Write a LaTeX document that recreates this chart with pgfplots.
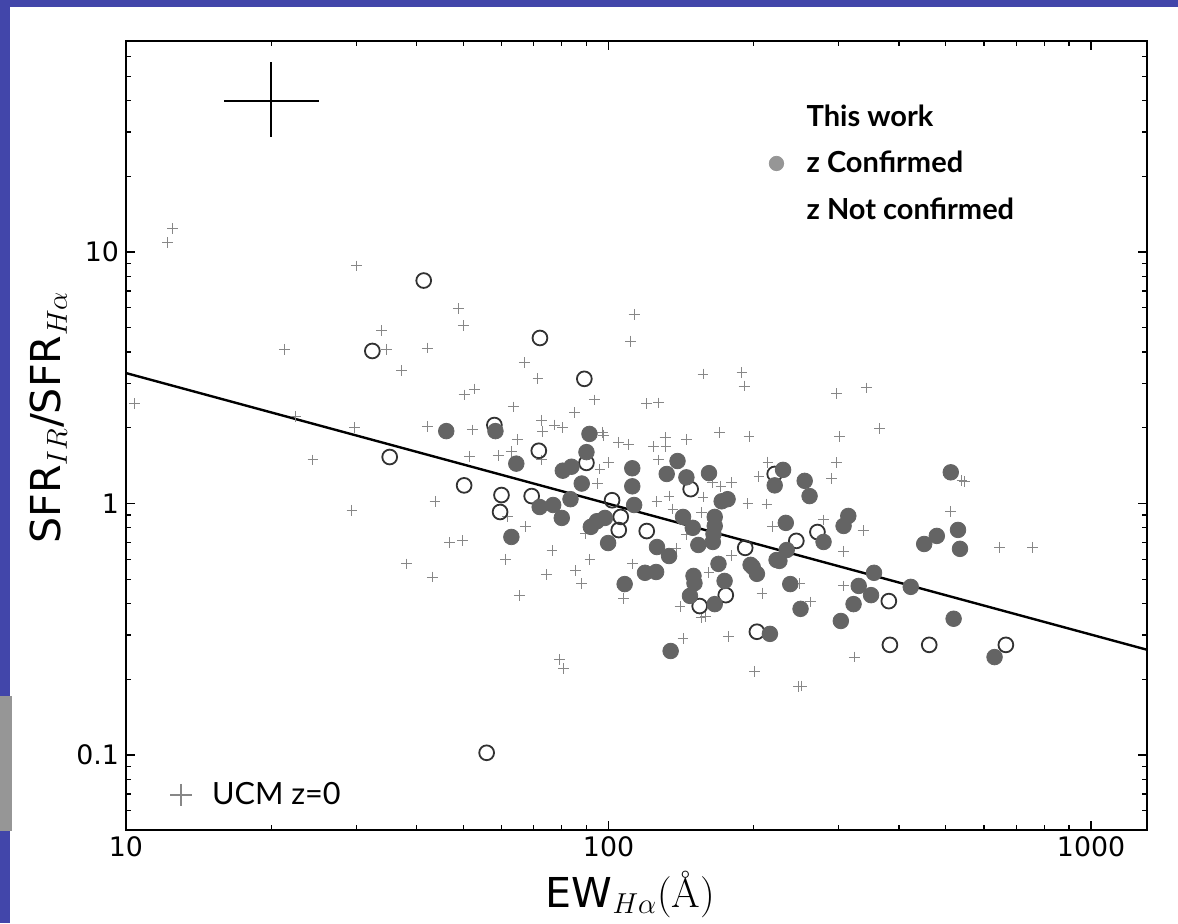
\documentclass[border=0pt]{standalone}
\usepackage{fontspec}
\usepackage{pgfplots}
\pgfplotsset{compat=1.18}
\newfontfamily\djv{DejaVu Sans}
\newfontfamily\lato{Lato}
\definecolor{slideblue}{RGB}{66,70,170}
\definecolor{slidegray}{RGB}{150,150,150}
\definecolor{crossgray}{RGB}{135,135,135}
\definecolor{fillgray}{RGB}{100,100,100}
\definecolor{opengray}{RGB}{50,50,50}
\definecolor{leggray}{RGB}{150,150,150}
\begin{document}
\begin{tikzpicture}
\useasboundingbox (0,0) rectangle (589pt,461.5pt);
\fill[white] (0,0) rectangle (589pt,461.5pt);
\fill[slideblue] (0,458pt) rectangle (589pt,461.5pt);
\fill[slideblue] (0,0) rectangle (5pt,461.5pt);
\fill[slidegray] (0,46pt) rectangle (6pt,113.5pt);
\begin{axis}[
  at={(63pt,46.5pt)}, anchor=south west,
  scale only axis, width=510.5pt, height=394.5pt,
  xmode=log, ymode=log,
  xmin=10, xmax=1306, ymin=0.0503, ymax=69,
  xtick={10,100,1000}, xticklabels={10,100,1000},
  ytick={0.1,1,10}, yticklabels={0.1,1,10},
  minor xtick={20,30,40,50,60,70,80,90,200,300,400,500,600,700,800,900},
  minor ytick={0.06,0.07,0.08,0.09,0.2,0.3,0.4,0.5,0.6,0.7,0.8,0.9,2,3,4,5,6,7,8,9,20,30,40,50,60},
  tick align=inside, tick pos=both,
  major tick length=4.5pt, minor tick length=2.5pt,
  every tick/.style={black, line width=0.6pt},
  axis line style={line width=1pt},
  ticklabel style={font=\djv\fontsize{13.4}{16}\selectfont},
  label style={font=\fontsize{20.6}{24}\selectfont},
  xlabel={{\djv EW}$_{H\alpha}$(\AA)},
  ylabel={{\djv SFR}$_{IR}${\djv /SFR}$_{H\alpha}$},
  xlabel style={at={(rel axis cs:0.494,-0.082)}, anchor=center},
  ylabel style={at={(rel axis cs:-0.076,0.523)}, anchor=center},
  legend style={draw=none, fill=none, at={(rel axis cs:0.6141,0.93)}, anchor=north west,
    font=\lato\bfseries\fontsize{14.5}{16}\selectfont, row sep=7pt, column sep=9.5pt},
  legend cell align=left,
]
\addplot[only marks, mark=+, mark size=2.7pt, color=crossgray, mark options={line width=0.5pt}, forget plot] coordinates {
(12.5,12.4) (12.2,10.9) (30,8.8) (48.8,5.95) (50,5.1) (33.9,4.86) (21.3,4.1) (34.7,4.1)
(42.1,4.15) (37.3,3.37) (52.7,2.85) (50.2,2.7) (63.5,2.42) (10.4,2.49) (22.5,2.22) (29.8,2.0)
(42.1,2.02) (52.2,1.96) (64.7,1.8) (62.9,1.61) (59.1,1.55) (51.5,1.54) (24.4,1.49) (43.7,1.02)
(29.4,0.94) (61.7,0.89) (46.8,0.70) (49.8,0.71) (113,5.65) (111,4.42) (66.9,3.63) (71.4,3.13)
(157,3.27) (189,3.32) (191,2.93) (297,2.73) (342,2.88) (93.6,2.58) (85,2.3) (120,2.49)
(127,2.51) (72.7,2.14) (77.2,2.05) (80.4,2.0) (73,1.94) (97.3,1.92) (97.8,1.87) (105,1.75)
(110,1.72) (124,1.68) (131,1.83) (131.5,1.68) (145,1.8) (170,1.92) (195.5,1.85) (72.7,1.49)
(99.8,1.45) (96,1.37) (127,1.49) (214,1.46) (205,1.28) (95,1.2) (164,1.21) (171,1.17)
(180,1.21) (157,1.06) (133.5,1.07) (126,1.02) (194.5,1.0) (213,0.995) (136,0.95) (67.2,0.81)
(156,0.92) (219,0.81) (89.6,0.76) (145,0.75) (76.4,0.65) (91.5,0.6) (138,0.66) (180,0.62)
(38.1,0.575) (61.2,0.6) (112,0.575) (43.1,0.51) (74.3,0.52) (85.4,0.54) (88,0.48) (161.5,0.53)
(65.3,0.43) (107.4,0.42) (140.7,0.39) (155.5,0.353) (159,0.356) (208,0.44) (142.7,0.29) (177,0.295)
(79.2,0.24) (80.6,0.22) (201,0.215) (248,0.187) (365,1.98) (301,1.84) (297,1.45) (290,1.26)
(279,0.86) (337,0.78) (512,0.93) (540,1.23) (547,1.22) (647,0.67) (757,0.67) (307,0.645)
(249,0.48) (307,0.47) (262,0.406) (323,0.245) (251,0.188)
};
\addplot[only marks, mark=o, mark size=3.7pt, color=opengray, mark options={line width=0.9pt}, forget plot] coordinates {
(41.4,7.7) (32.4,4.04) (58,2.05) (35.2,1.53) (50.2,1.18) (60,1.08) (59.6,0.925) (72.1,4.55)
(89.1,3.13) (71.7,1.62) (90,1.45) (69.3,1.07) (101.7,1.03) (106,0.884) (105,0.784) (120,0.777)
(148,1.14) (192,0.666) (221,1.31) (175,0.432) (154.5,0.391) (203,0.309) (55.9,0.102) (245,0.71)
(271,0.77) (381,0.409) (383,0.274) (462,0.274) (666,0.274)
};
\addplot[only marks, mark=*, mark size=3.9pt, color=fillgray, forget plot] coordinates {
(46.1,1.94) (58.3,1.94) (64.4,1.44) (62.9,0.736) (91.3,1.89) (90,1.6) (80.4,1.35) (83.8,1.4)
(88,1.2) (83.4,1.04) (112,1.38) (112,1.17) (113,0.986) (139,1.475) (132,1.31) (145,1.27)
(161.5,1.32) (171.6,1.02) (176.5,1.04) (221,1.18) (223,0.596) (72,0.968) (76.8,0.986) (80,0.876)
(91.9,0.807) (94.6,0.85) (98.3,0.876) (99.8,0.696) (142.7,0.884) (149.5,0.8) (166,0.884) (166,0.814)
(165,0.756) (164.5,0.703) (153.5,0.684) (126,0.671) (133.5,0.618) (169,0.575) (197,0.57) (203,0.525)
(119,0.53) (125.5,0.534) (108,0.478) (150,0.515) (150.7,0.482) (147.5,0.429) (166,0.398) (174,0.492)
(216,0.303) (134.5,0.259) (238,0.478) (250,0.381) (230,1.36) (255,1.23) (261,1.07) (512,1.33)
(233,0.837) (279,0.703) (307,0.814) (314,0.892) (234,0.653) (226,0.591) (199,0.559) (355,0.53)
(330,0.47) (350,0.432) (322,0.398) (303,0.341) (423,0.466) (451,0.69) (479,0.743) (530,0.785)
(535,0.66) (519,0.348) (631,0.245)
};
\addplot[black, line width=1.2pt, forget plot] coordinates {(10,3.30) (1306,0.262)};
\addplot[black, line width=1pt, forget plot] coordinates {(16,40) (25.1,40)};
\addplot[black, line width=1pt, forget plot] coordinates {(20,28.7) (20,57)};
\addlegendimage{empty legend}\addlegendentry{This work}
\addlegendimage{only marks, mark=*, mark size=3.6pt, color=leggray}\addlegendentry{z Confirmed}
\addlegendimage{empty legend}\addlegendentry{z Not confirmed}
\end{axis}
\begin{axis}[
  at={(63pt,46.5pt)}, anchor=south west,
  scale only axis, width=510.5pt, height=394.5pt,
  xmode=log, ymode=log,
  xmin=10, xmax=1306, ymin=0.0503, ymax=69,
  hide axis,
  legend style={draw=none, fill=none, at={(rel axis cs:0.0369,0.0444)}, anchor=west,
    font=\lato\fontsize{15.3}{18}\selectfont, column sep=8pt},
]
\addlegendimage{only marks, mark=+, mark size=5.5pt, color=crossgray, mark options={line width=1.4pt}}
\addlegendentry{UCM z=0}
\end{axis}
\end{tikzpicture}
\end{document}
